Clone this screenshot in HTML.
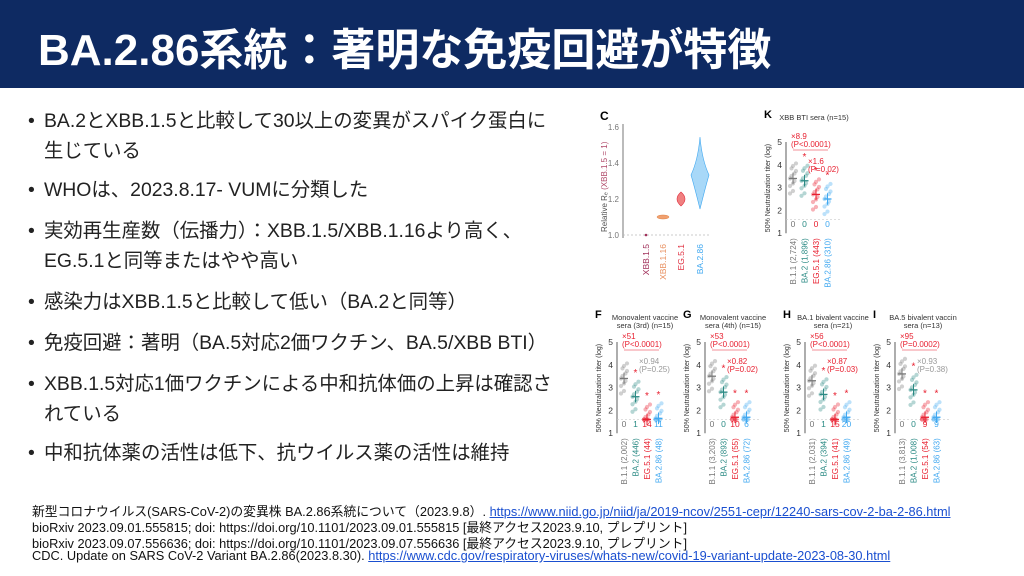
<!DOCTYPE html>
<html><head><meta charset="utf-8"><style>
body{margin:0;width:1024px;height:576px;overflow:hidden;background:#fff;font-family:"Liberation Sans","Noto Sans CJK JP",sans-serif;position:relative}
.hdr{position:absolute;left:0;top:0;width:1024px;height:88px;background:#0e2a62}
.hdr h1{margin:0;position:absolute;left:38px;top:14px;color:#fff;font-size:44px;font-weight:bold;white-space:nowrap}
.b{position:absolute;left:28px;font-size:19.4px;color:#222;line-height:30px;white-space:nowrap}
.b span{position:absolute;left:0}
.b div{margin-left:16px}
.ft{position:absolute;left:32px;font-size:12.8px;color:#111;white-space:nowrap;line-height:14px}
.ft a{color:#1a4fd0;text-decoration:underline}
</style></head><body>
<div class="hdr"><h1>BA.2.86系統：著明な免疫回避が特徴</h1></div>
<div class="b" style="top:106px"><span>•</span><div>BA.2とXBB.1.5と比較して30以上の変異がスパイク蛋白に<br>生じている</div></div>
<div class="b" style="top:175px"><span>•</span><div>WHOは、2023.8.17- VUMに分類した</div></div>
<div class="b" style="top:216px"><span>•</span><div>実効再生産数（伝播力）：XBB.1.5/XBB.1.16より高く、<br>EG.5.1と同等またはやや高い</div></div>
<div class="b" style="top:287px"><span>•</span><div>感染力はXBB.1.5と比較して低い（BA.2と同等）</div></div>
<div class="b" style="top:328px"><span>•</span><div>免疫回避：著明（BA.5対応2価ワクチン、BA.5/XBB BTI）</div></div>
<div class="b" style="top:369px"><span>•</span><div>XBB.1.5対応1価ワクチンによる中和抗体価の上昇は確認さ<br>れている</div></div>
<div class="b" style="top:438px"><span>•</span><div>中和抗体薬の活性は低下、抗ウイルス薬の活性は維持</div></div>
<div class="ft" style="top:505px">新型コロナウイルス(SARS-CoV-2)の変異株 BA.2.86系統について（2023.9.8）. <a>https://www.niid.go.jp/niid/ja/2019-ncov/2551-cepr/12240-sars-cov-2-ba-2-86.html</a></div>
<div class="ft" style="top:521px">bioRxiv 2023.09.01.555815; doi: https://doi.org/10.1101/2023.09.01.555815 [最終アクセス2023.9.10, プレプリント]</div>
<div class="ft" style="top:537px">bioRxiv 2023.09.07.556636; doi: https://doi.org/10.1101/2023.09.07.556636 [最終アクセス2023.9.10, プレプリント]</div>
<div class="ft" style="top:549px">CDC. Update on SARS CoV-2 Variant BA.2.86(2023.8.30). <a>https://www.cdc.gov/respiratory-viruses/whats-new/covid-19-variant-update-2023-08-30.html</a></div>
<svg id="s" style="position:absolute;left:0;top:0" width="1024" height="576" font-family="Liberation Sans, sans-serif">
<text x="600" y="120" font-size="12" font-weight="bold">C</text>
<line x1="623" y1="124" x2="623" y2="238" stroke="#555" stroke-width="0.8"/>
<g font-size="8" fill="#777" text-anchor="end"><text x="619" y="130">1.6</text><text x="619" y="166">1.4</text><text x="619" y="202">1.2</text><text x="619" y="238">1.0</text></g>
<line x1="623" y1="235" x2="710" y2="235" stroke="#bbb" stroke-dasharray="2,2" stroke-width="0.8"/>
<text transform="translate(607,232) rotate(-90)" font-size="8" fill="#555">Relative Rₑ <tspan fill="#b04a6a">(XBB.1.5 = 1)</tspan></text>
<circle cx="646" cy="235" r="1.3" fill="#a0305a"/>
<ellipse cx="663" cy="217" rx="6" ry="2" fill="#f0a070" stroke="#e08040" stroke-width="0.5"/>
<path d="M681 192 Q689 199 681 206 Q673 199 681 192Z" fill="#f08080" stroke="#e03040" stroke-width="0.6"/>
<path d="M700 137 Q702 160 709 175 Q706 185 700 209 Q694 185 691 175 Q698 160 700 137Z" fill="#a8d8f8" stroke="#40a8f0" stroke-width="0.6"/>
<g font-size="8.5" text-anchor="end"><text transform="translate(649,244) rotate(-90)" fill="#a0305a">XBB.1.5</text><text transform="translate(666,244) rotate(-90)" fill="#e89060">XBB.1.16</text><text transform="translate(684,244) rotate(-90)" fill="#e03040">EG.5.1</text><text transform="translate(703,244) rotate(-90)" fill="#40a8f0">BA.2.86</text></g>
<g id="panels"></g>
</svg>
<script>
var g=document.getElementById('panels'),h='';
var cols=['#777','#2a8a84','#e82030','#40a8f0'];
function panel(ax,top,letter,t1,t2,means,zeros,labels,ann){
 var y=function(v){return top+(5-v)*22.8};
 h+='<text x="'+(ax-22)+'" y="'+(top-24)+'" font-size="11" font-weight="bold">'+letter+'</text>';
 h+='<text x="'+(ax+28)+'" y="'+(top-22)+'" font-size="7.5" fill="#333" text-anchor="middle">'+t1+'</text>';
 if(t2)h+='<text x="'+(ax+28)+'" y="'+(top-14)+'" font-size="7.5" fill="#333" text-anchor="middle">'+t2+'</text>';
 h+='<line x1="'+ax+'" y1="'+y(5)+'" x2="'+ax+'" y2="'+y(1)+'" stroke="#333" stroke-width="0.8"/>';
 for(var v=1;v<=5;v++)h+='<text x="'+(ax-4)+'" y="'+(y(v)+3)+'" font-size="8.5" text-anchor="end" fill="#333">'+v+'</text>';
 h+='<line x1="'+ax+'" y1="'+y(1.6)+'" x2="'+(ax+55)+'" y2="'+y(1.6)+'" stroke="#ccc" stroke-dasharray="2,2" stroke-width="0.6"/>';
 h+='<text transform="translate('+(ax-16)+','+(y(1)-1)+') rotate(-90)" font-size="7" fill="#333">50% Neutralization titer (log)</text>';
 for(var i=0;i<4;i++){var cx=ax+7+i*11.5;
  for(var k=0;k<12;k++){var v=means[i]+((k*37%13)-6)*0.11;if(v<1.6)v=1.6;
   h+='<circle cx="'+(cx+((k*7%5)-2)*1.5)+'" cy="'+y(v)+'" r="2.1" fill="'+cols[i]+'" fill-opacity="0.35"/>';}
  h+='<line x1="'+(cx-4)+'" y1="'+y(means[i])+'" x2="'+(cx+4)+'" y2="'+y(means[i])+'" stroke="'+cols[i]+'" stroke-width="1.3"/>';
  h+='<line x1="'+cx+'" y1="'+y(means[i]+0.25)+'" x2="'+cx+'" y2="'+y(means[i]-0.25)+'" stroke="'+cols[i]+'" stroke-width="1"/>';
  h+='<text x="'+cx+'" y="'+(y(1)-6)+'" font-size="8.5" text-anchor="middle" fill="'+cols[i]+'">'+zeros[i]+'</text>';
  h+='<text transform="translate('+(cx+3)+','+(y(1)+5)+') rotate(-90)" font-size="8" text-anchor="end" fill="'+cols[i]+'">'+labels[i]+'</text>';
  if(i>0)h+='<text x="'+cx+'" y="'+(y(means[i]+0.9))+'" font-size="10" fill="#e82030" text-anchor="middle">*</text>';}
 h+='<text x="'+(ax+5)+'" y="'+(top-3)+'" font-size="8" fill="#e82030">'+ann[0]+'</text>';
 h+='<text x="'+(ax+5)+'" y="'+(top+5)+'" font-size="8" fill="#e82030">'+ann[1]+'</text>';
 h+='<line x1="'+(ax+7)+'" y1="'+(top+8)+'" x2="'+(ax+42)+'" y2="'+(top+8)+'" stroke="#e82030" stroke-width="0.6"/>';
 h+='<text x="'+(ax+22)+'" y="'+(top+22)+'" font-size="8" fill="'+ann[4]+'">'+ann[2]+'</text>';
 h+='<text x="'+(ax+22)+'" y="'+(top+30)+'" font-size="8" fill="'+ann[4]+'">'+ann[3]+'</text>';
}
panel(786,142,'K','XBB BTI sera (n=15)','',[3.4,3.3,2.7,2.5],[0,0,0,0],['B.1.1 (2,724)','BA.2 (1,896)','EG.5.1 (443)','BA.2.86 (310)'],['×8.9','(P<0.0001)','×1.6','(P=0.02)','#e82030']);
var L=[['F','Monovalent vaccine','sera (3rd) (n=15)',617,[3.4,2.6,1.6,1.65],[0,1,14,11],['B.1.1 (2,002)','BA.2 (446)','EG.5.1 (44)','BA.2.86 (48)'],['×51','(P<0.0001)','×0.94','(P=0.25)','#999']],
['G','Monovalent vaccine','sera (4th) (n=15)',705,[3.5,2.8,1.7,1.7],[0,0,10,6],['B.1.1 (3,203)','BA.2 (893)','EG.5.1 (55)','BA.2.86 (72)'],['×53','(P<0.0001)','×0.82','(P=0.02)','#e82030']],
['H','BA.1 bivalent vaccine','sera (n=21)',805,[3.3,2.7,1.6,1.7],[0,1,15,20],['B.1.1 (2,031)','BA.2 (394)','EG.5.1 (41)','BA.2.86 (49)'],['×56','(P<0.0001)','×0.87','(P=0.03)','#e82030']],
['I','BA.5 bivalent vaccin','sera (n=13)',895,[3.6,2.9,1.7,1.7],[0,0,9,9],['B.1.1 (3,813)','BA.2 (1,008)','EG.5.1 (54)','BA.2.86 (63)'],['×95','(P=0.0002)','×0.93','(P=0.38)','#999']]];
L.forEach(function(p){panel(p[3],342,p[0],p[1],p[2],p[4],p[5],p[6],p[7]);});
g.innerHTML=h;
</script>
</body></html>
